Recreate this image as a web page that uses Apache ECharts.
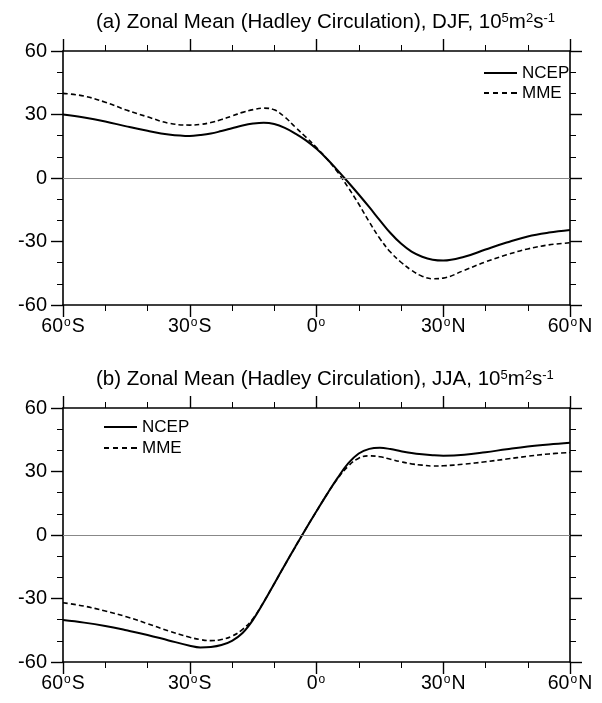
<!DOCTYPE html>
<html>
<head>
<meta charset="utf-8">
<script src="https://cdn.jsdelivr.net/npm/echarts@6/dist/echarts.min.js"></script>
<style>
html,body{margin:0;padding:0;background:#fff;}
#chart{width:602px;height:703px;}
</style>
</head>
<body>
<div id="chart"></div>
<script>
// Latitudes (negative = S, positive = N)
var lats = [-60,-55,-50,-45,-40,-35,-30,-27.5,-25,-22.5,-20,-17.5,-15,-12.5,-10,-7.5,-5,-2.5,0,2.5,5,7.5,10,12.5,15,17.5,20,22.5,25,27.5,30,35,40,45,50,55,60];

// Panel (a) DJF
var djfNCEP = [30,28.6,26.7,24.4,22.3,20.6,19.9,20.3,21.0,22.2,23.5,24.8,25.7,26.1,25.5,23.7,21.0,17.8,13.8,9.0,3.6,-2.0,-7.8,-13.8,-20,-26,-31,-34.8,-37.2,-38.6,-39,-37.2,-33.8,-30.5,-27.6,-25.8,-24.6];
var djfMME  = [40,38.7,35.8,32.1,28.9,25.9,25.0,25.3,26.2,27.6,29.3,31.0,32.3,33.0,32.2,28.8,24.0,19.3,14.4,9.0,2.8,-4.5,-12.3,-20.8,-28.6,-35,-39.8,-43.6,-46.4,-47.6,-47.3,-43.6,-39.6,-36.3,-33.5,-31.6,-30.6];

// Panel (b) JJA
var jjaNCEP = [-40.2,-41.4,-43,-45,-47.2,-49.8,-52.3,-53.1,-52.9,-52.0,-50.0,-46.3,-40.0,-31.8,-23.0,-14.2,-5.5,3.0,11.2,19.3,27,33.8,38.5,40.7,41.2,40.6,39.6,38.7,38.1,37.7,37.5,37.9,39.1,40.5,41.8,42.8,43.6];
var jjaMME  = [-32,-33.6,-35.9,-38.6,-41.9,-45.3,-48.3,-49.4,-49.9,-49.4,-47.8,-44.6,-39.4,-31.6,-23.0,-14.2,-5.5,3.0,11.2,19.3,26.6,32.5,36.3,37.4,37.0,35.8,34.6,33.6,33.0,32.6,32.7,33.5,34.6,35.9,37.2,38.3,39];

var seriesNames = ['NCEP','MME'];

function pairs(vals){ return lats.map(function(l,i){ return [l, vals[i]]; }); }

function latLabel(v){
  if (v === 0) return '{n|0}{o|o}';
  var h = v < 0 ? 'S' : 'N';
  return '{n|' + Math.abs(v) + '}{o|o}{n|' + h + '}';
}

var FONT = '"Liberation Sans", Arial, Helvetica, sans-serif';
var axisLine = {show:true, onZero:false, lineStyle:{color:'#000', width:1.6}};
var majorTick = {show:true, inside:false, length:12, lineStyle:{color:'#000', width:1.4}};
var minorTick = {show:true, splitNumber:3, length:6, lineStyle:{color:'#000', width:1}};

function xAxes(gi){
  return [
    {type:'value', gridIndex:gi, position:'bottom', min:-60, max:60, interval:30,
     axisLine:axisLine, axisTick:majorTick, minorTick:minorTick, splitLine:{show:false},
     axisLabel:{show:true, margin:12, formatter:latLabel,
       rich:{n:{fontSize:19.5, fontFamily:FONT, color:'#000'},
             o:{fontSize:12, fontFamily:FONT, color:'#000', verticalAlign:'top', padding:[0,1,0,1]}}}},
    {type:'value', gridIndex:gi, position:'top', min:-60, max:60, interval:30,
     axisLine:axisLine, axisTick:majorTick, minorTick:minorTick, splitLine:{show:false},
     axisLabel:{show:false}}
  ];
}
function yAxes(gi){
  return [
    {type:'value', gridIndex:gi, position:'left', min:-60, max:60, interval:30,
     axisLine:axisLine, axisTick:majorTick, minorTick:minorTick, splitLine:{show:false},
     axisLabel:{show:true, margin:16, fontSize:20, fontFamily:FONT, color:'#000'}},
    {type:'value', gridIndex:gi, position:'right', min:-60, max:60, interval:30,
     axisLine:axisLine, axisTick:majorTick, minorTick:minorTick, splitLine:{show:false},
     axisLabel:{show:false}}
  ];
}

function mkSeries(name, vals, xi, yi, dashed, zero){
  var s = {
    name:name, type:'line', xAxisIndex:xi, yAxisIndex:yi, data:pairs(vals),
    smooth:0.4, symbol:'none', showSymbol:false,
    lineStyle: dashed ? {color:'#000', width:1.6, type:[5,3]} : {color:'#000', width:2},
    itemStyle:{color:'#000'}, z: dashed ? 3 : 4
  };
  if (zero){
    s.markLine = {silent:true, symbol:['none','none'], label:{show:false},
      lineStyle:{color:'#888', width:1, type:'solid'}, data:[{yAxis:0}]};
  }
  return s;
}

var titleRich = {
  t:{fontSize:20.5, fontFamily:FONT, color:'#000', fontWeight:'normal'},
  s:{fontSize:13, fontFamily:FONT, color:'#000', fontWeight:'normal', verticalAlign:'top'}
};

var solidIcon = 'path://M0,0h33v2h-33z';
var dashIcon = 'path://M0,0h5v2h-5z M9,0h5v2h-5z M18,0h5v2h-5z M27,0h6v2h-6z';

function legendData(){
  return [{name:'NCEP', icon:solidIcon}, {name:'MME', icon:dashIcon}];
}

var option = {
  backgroundColor:'#fff',
  animation:false,
  title:[
    {text:'{t|(a) Zonal Mean (Hadley Circulation), DJF, 10}{s|5}{t|m}{s|2}{t|s}{s|-1}', left:91, top:7,
     textStyle:{rich:titleRich}},
    {text:'{t|(b) Zonal Mean (Hadley Circulation), JJA, 10}{s|5}{t|m}{s|2}{t|s}{s|-1}', left:91, top:364,
     textStyle:{rich:titleRich}}
  ],
  legend:[
    {data:legendData(), orient:'vertical', left:479, top:59, itemWidth:33, itemHeight:2, itemGap:2,
     textStyle:{fontSize:17, fontFamily:FONT, color:'#000', lineHeight:18}, selectedMode:false},
    {data:legendData(), orient:'vertical', left:99, top:413, itemWidth:33, itemHeight:2, itemGap:3,
     textStyle:{fontSize:17, fontFamily:FONT, color:'#000', lineHeight:18}, selectedMode:false}
  ],
  grid:[
    {left:63, top:51, width:507, height:254},
    {left:63, top:408, width:507, height:254}
  ],
  xAxis: xAxes(0).concat(xAxes(1)),
  yAxis: yAxes(0).concat(yAxes(1)),
  series:[
    mkSeries('NCEP', djfNCEP, 0, 0, false, true),
    mkSeries('MME', djfMME, 0, 0, true, false),
    mkSeries('NCEP', jjaNCEP, 2, 2, false, true),
    mkSeries('MME', jjaMME, 2, 2, true, false)
  ]
};

var chart = echarts.init(document.getElementById('chart'), null, {renderer:'canvas'});
chart.setOption(option);
</script>
</body>
</html>
